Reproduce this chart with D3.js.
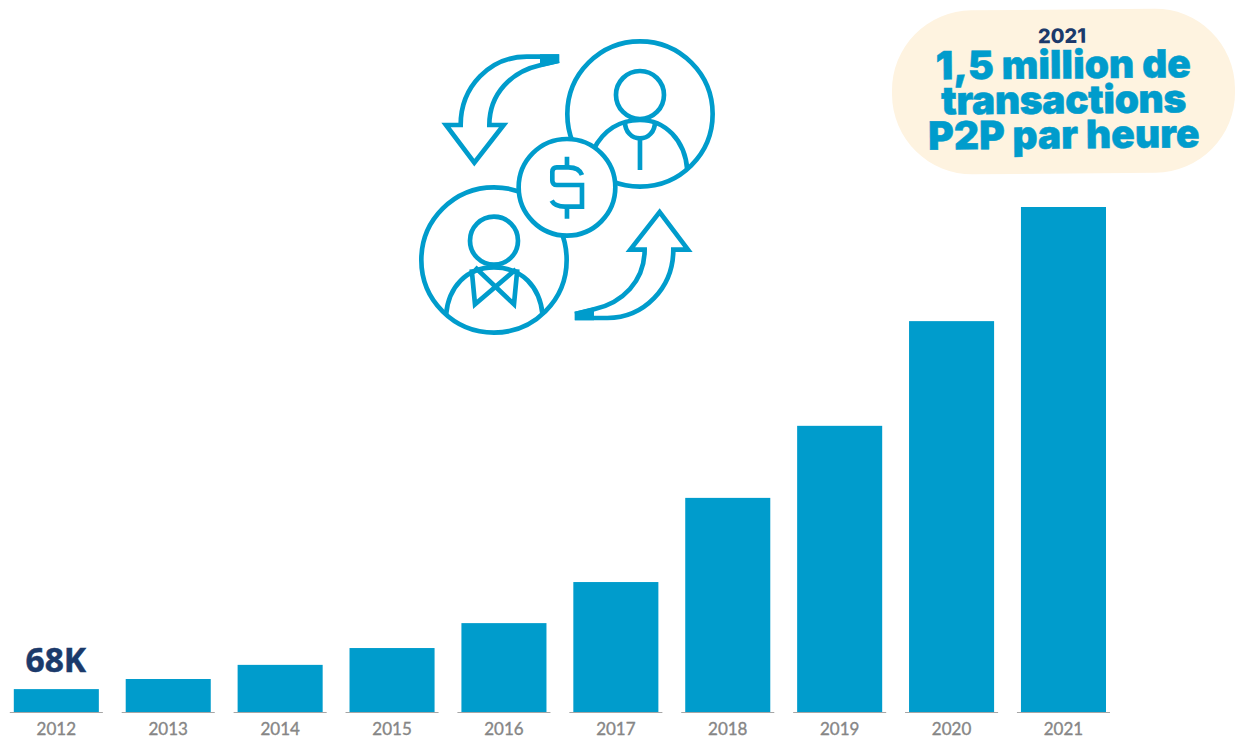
<!DOCTYPE html>
<html lang="fr">
<head>
<meta charset="utf-8">
<style>
  html, body { margin: 0; padding: 0; background: #fff; }
  svg { display: block; }
</style>
<script src="https://cdn.jsdelivr.net/npm/d3@7"></script>
</head>
<body>
<svg id="chart" width="1237" height="738"></svg>
<script>
const years = ["2012","2013","2014","2015","2016","2017","2018","2019","2020","2021"];
// Hourly P2P transactions, in thousands
const transactions = [68, 98, 140, 190, 264, 386, 636, 850, 1161, 1500];
const calloutYear = "2021";
const calloutLines = ["1,5 million de", "transactions", "P2P par heure"];
const firstBarLabel = "68K";

const BLUE = "#009ccc", NAVY = "#1b3a6b", GREY = "#868686", CREAM = "#fef3e0";
const svg = d3.select("#chart");

const x = d3.scaleBand().domain(years).range([13.8, 1106]).paddingInner(0.24).paddingOuter(0);
const y = d3.scaleLinear().domain([0, 1500]).range([712, 207]);

// Bars
svg.append("g").selectAll("rect").data(years).join("rect")
  .attr("x", d => x(d))
  .attr("width", x.bandwidth())
  .attr("y", (d, i) => y(transactions[i]))
  .attr("height", (d, i) => y(0) - y(transactions[i]))
  .attr("fill", BLUE);

// Baseline segment and year under each bar
const axis = svg.append("g").attr("transform", `translate(0,${y(0) + 0.5})`)
  .call(d3.axisBottom(x).tickSize(0).tickPadding(10));
axis.select(".domain").remove();
axis.selectAll("text")
  .attr("font-family", "Lato, sans-serif").attr("font-size", 17).attr("font-weight", 400)
  .attr("fill", GREY).attr("stroke", GREY).attr("stroke-width", 0.35);
axis.selectAll(".tick").append("line")
  .attr("x1", -x.bandwidth() / 2 - 4).attr("x2", x.bandwidth() / 2 + 4)
  .attr("stroke", "#a6a6a6").attr("stroke-width", 1.2);

// Value stated on the first bar
svg.append("text")
  .attr("x", x(years[0]) + x.bandwidth() / 2 - 0.5)
  .attr("y", y(transactions[0]) - 17.5)
  .attr("text-anchor", "middle")
  .attr("font-family", "'Open Sans', sans-serif").attr("font-size", 33.5).attr("font-weight", 700)
  .attr("fill", NAVY).attr("stroke", NAVY).attr("stroke-width", 0.5)
  .text(firstBarLabel);

// Callout pill
const callout = svg.append("g").attr("transform", "rotate(-0.5 1063 91)");
callout.append("rect")
  .attr("x", 892).attr("y", 9.5).attr("width", 343).attr("height", 164)
  .attr("rx", 80).attr("fill", CREAM);
callout.append("text")
  .attr("x", 1062.5).attr("y", 43).attr("text-anchor", "middle")
  .attr("font-family", "Inter, sans-serif").attr("font-size", 20).attr("font-weight", 800)
  .attr("fill", NAVY).text(calloutYear);
callout.selectAll("text.line").data(calloutLines).join("text")
  .attr("class", "line")
  .attr("x", 1063.5).attr("y", (d, i) => 78.5 + i * 35).attr("text-anchor", "middle")
  .attr("font-family", "Inter, sans-serif").attr("font-size", 39).attr("font-weight", 900)
  .attr("letter-spacing", (d, i) => i === 1 ? -0.4 : 0)
  .attr("fill", BLUE).attr("stroke", BLUE).attr("stroke-width", 0.5)
  .text(d => d);

// Person-to-person exchange icon
const icon = svg.append("g")
  .attr("transform", "translate(410,30) scale(0.3333)")
  .attr("fill", "none").attr("stroke", BLUE).attr("stroke-width", 14);

const arrowPath = "M447,80 L350,80 C240,80 152,170 152,285 L108,285 L193,398 L281,285 L238,285 C238,190 305,125 390,106 L447,92";

function person(cx, cy) {
  icon.append("circle").attr("cx", cx).attr("cy", cy).attr("r", 218);
}
person(690, 252);
person(252, 690);

// Upper right figure
icon.append("circle").attr("cx", 690).attr("cy", 195).attr("r", 72);
icon.append("path").attr("d", "M832,420 C825,330 765,270 690,270 C630,270 580,300 550,360");
icon.append("path").attr("d", "M645,275 C645,305 665,325 690,325 C715,325 735,305 735,275");
icon.append("path").attr("d", "M690,325 L690,420");

// Lower left figure
icon.append("circle").attr("cx", 252).attr("cy", 632).attr("r", 72);
icon.append("path").attr("d", "M108,855 C115,770 170,712 252,712 C335,712 390,770 398,855");
icon.append("path").attr("d", "M185,718 L195,823 L318,718");
icon.append("path").attr("d", "M195,712 L312,823 L322,718");

// Coin sits over both circles
icon.append("circle").attr("cx", 471).attr("cy", 472).attr("r", 145).attr("fill", "#fff");
icon.append("path").attr("d", "M516,435 C510,418 495,412 475,412 L440,412 C432,412 427,417 427,425 L427,452 C427,460 432,465 440,465 L516,465 L516,530 L465,530 C445,530 432,525 425,512");
icon.append("path").attr("d", "M471,380 L471,412 M471,530 L471,566");

// Arrows, the second being the first turned half way round the coin
[null, "rotate(180 471 472)"].forEach(t => {
  const g = icon.append("g");
  if (t) g.attr("transform", t);
  g.append("path").attr("d", arrowPath);
  g.append("path").attr("d", "M390,73 L448,73 L448,99 L390,112 Z").attr("fill", BLUE).attr("stroke", "none");
});
</script>
</body>
</html>
